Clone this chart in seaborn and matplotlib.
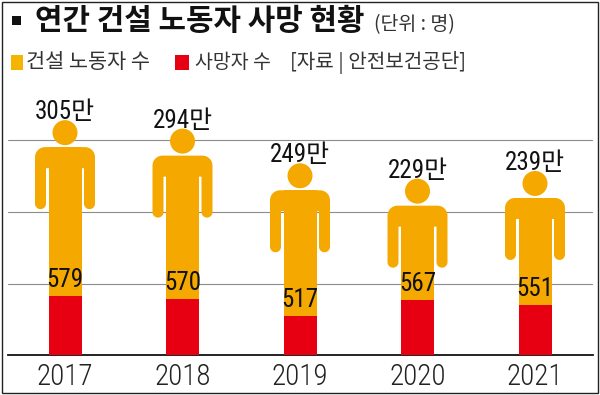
import matplotlib
matplotlib.use("Agg")
import matplotlib.pyplot as plt
import matplotlib.patches as mpatches
import matplotlib.transforms as mtransforms
from matplotlib.path import Path
import numpy as np
import pandas as pd
import seaborn as sns

# ---- data ----
years = ["2017", "2018", "2019", "2020", "2021"]
workers = [305, 294, 249, 229, 239]      # 건설 노동자 수 (만 명)
deaths = [579, 570, 517, 567, 551]       # 사망자 수 (명)

title = "연간 건설 노동자 사망 현황"
unit = "(단위 : 명)"
legend_labels = ["건설 노동자 수", "사망자 수"]
source = "[자료 | 안전보건공단]"

YELLOW = "#F5A800"
RED = "#E60012"

sns.set_theme(style="white")
NUM = ["Roboto Condensed", "Noto Sans CJK KR", "DejaVu Sans"]
KR = ["Noto Sans CJK KR", "DejaVu Sans"]
plt.rcParams["font.family"] = NUM

W, H = 600, 395
fig = plt.figure(figsize=(W / 100, H / 100), dpi=100)
fig.patch.set_facecolor("white")

base_px, top_px = 355, 92
left_px, right_px = 8, 593
ax = fig.add_axes([left_px / W, (H - base_px) / H, (right_px - left_px) / W, (base_px - top_px) / H])

ax_h = base_px - top_px
ppu = 0.77                 # pixels per 만 명
ymax = ax_h / ppu
head_px = 27               # head + neck gap in pixels
shoulder = [w - head_px / ppu for w in workers]

df = pd.DataFrame({"year": years, "workers": workers, "deaths": deaths, "shoulder": shoulder})

cat_px = 117.5
leg_w = 33 / cat_px

# legs (yellow bars)
sns.barplot(data=df, x="year", y="shoulder", color=YELLOW, saturation=1, width=leg_w,
            ax=ax, linewidth=0, edgecolor="none", zorder=2)

# upper body path (pixel offsets from shoulder top-centre)
def arc(cx, cy, r, a0, a1, n=14):
    t = np.radians(np.linspace(a0, a1, n))
    return list(zip(cx + r * np.cos(t), cy + r * np.sin(t)))

R, hw, aw, slit_y, arm_y, ar = 10, 30, 11, -21, -62, 5.5
inner = hw - aw
pts = []
pts += arc(-hw + R, -R, R, 180, 90)
pts += arc(hw - R, -R, R, 90, 0)
pts += arc(hw - ar, arm_y + ar, ar, 0, -180)
pts += [(inner, slit_y), (-inner, slit_y)]
pts += arc(-inner - ar, arm_y + ar, ar, 0, -180)
pts += [(-hw, -R)]
body_path = Path(pts + [pts[0]], closed=True)

for i, s in enumerate(shoulder):
    tr = mtransforms.Affine2D().scale(fig.dpi / 100.0) + mtransforms.ScaledTranslation(i, s, ax.transData)
    ax.add_patch(mpatches.PathPatch(body_path, facecolor=YELLOW, edgecolor="none", transform=tr, zorder=2))
    ax.add_patch(mpatches.Circle((0, 2 + 12.5), 12.5, facecolor=YELLOW, edgecolor="none", transform=tr, zorder=2))
    ax.annotate(f"{workers[i]}만", xy=(i, workers[i]), xytext=(0, -3), textcoords="offset points",
                ha="center", va="bottom", fontsize=18, color="#111111", zorder=5)
    ax.annotate(years[i], xy=(i, 0), xytext=(0, -22 * 0.72), textcoords="offset points",
                ha="center", va="center", fontsize=21, fontweight="light", color="#222222",
                annotation_clip=False)

# deaths (red bars) on their own scale
ax2 = ax.twinx()
sns.barplot(data=df, x="year", y="deaths", color=RED, saturation=1, width=leg_w,
            ax=ax2, linewidth=0, edgecolor="none", zorder=3)
for i, d in enumerate(deaths):
    ax2.annotate(f"{d}", xy=(i, d), xytext=(0, 16 * 0.72), textcoords="offset points",
                 ha="center", va="center", fontsize=18, color="#111111", zorder=6)

xl = ((left_px - 65) / cat_px, (right_px - 65) / cat_px)
for a in (ax, ax2):
    a.set_xlim(*xl)
    a.set_xlabel("")
    a.set_ylabel("")
    a.set_xticks([])
    for sp in ["top", "left", "right"]:
        a.spines[sp].set_visible(False)
ax2.set_yticks([])
ax2.spines["bottom"].set_visible(False)
ax.set_ylim(0, ymax)
ax2.set_ylim(398, 398 + ax_h / 0.325)

grid_px = [71, 143, 215]
ax.set_yticks([g / ppu for g in grid_px])
ax.set_yticklabels([])
ax.tick_params(left=False, bottom=False)
ax2.tick_params(right=False)
ax.grid(axis="y", color="#8c8c8c", linewidth=0.8)
ax.set_axisbelow(True)
ax.spines["bottom"].set_color("#111111")
ax.spines["bottom"].set_linewidth(1.3)

# title block
def fx(px):
    return px / W
def fy(py):
    return 1 - py / H

fig.patches.append(mpatches.Rectangle((fx(12), fy(25)), 9 / W, 9 / H, transform=fig.transFigure,
                                      facecolor="#111111", edgecolor="none"))
fig.text(fx(35), fy(21), title, family=KR, fontsize=21.5, fontweight="bold", va="center", ha="left", color="#111111")
fig.text(fx(374), fy(25), unit, family=KR, fontsize=14, va="center", ha="left", color="#333333")

# legend row
fig.patches.append(mpatches.Rectangle((fx(11), fy(70)), 12 / W, 15 / H, transform=fig.transFigure,
                                      facecolor="#F5B400", edgecolor="none"))
fig.text(fx(26), fy(62), legend_labels[0], family=KR, fontsize=15, va="center", ha="left", color="#333333")
fig.patches.append(mpatches.Rectangle((fx(175), fy(70)), 14 / W, 15 / H, transform=fig.transFigure,
                                      facecolor=RED, edgecolor="none"))
fig.text(fx(195), fy(62), legend_labels[1], family=KR, fontsize=14, va="center", ha="left", color="#333333")
fig.text(fx(290), fy(62), source, family=KR, fontsize=14.5, va="center", ha="left", color="#333333")

# frame
fig.patches.append(mpatches.Rectangle((fx(1.5), fy(393)), 596 / W, 391 / H, transform=fig.transFigure,
                                      facecolor="none", edgecolor="#222222", linewidth=1))

fig.savefig("out.png", dpi=100, facecolor="white")
